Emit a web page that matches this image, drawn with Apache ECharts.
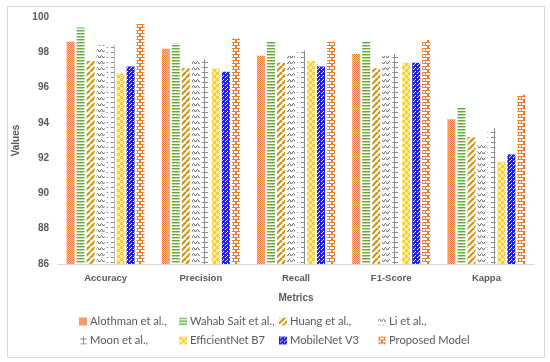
<!DOCTYPE html>
<html>
<head>
<meta charset="utf-8">
<script src="https://cdn.jsdelivr.net/npm/echarts@6/dist/echarts.min.js"></script>
<style>
html,body{margin:0;padding:0;background:#fff;}
#chart{width:550px;height:362px;}
</style>
</head>
<body>
<div id="chart"></div>
<script>
var categories = ['Accuracy', 'Precision', 'Recall', 'F1-Score', 'Kappa'];
var seriesNames = ['Alothman et al.,', 'Wahab Sait et al.,', 'Huang et al.,', 'Li et al.,', 'Moon et al.,', 'EfficientNet B7', 'MobileNet V3', 'Proposed Model'];
var alothman = [98.6, 98.2, 97.8, 97.9, 94.2];
var wahab = [99.4, 98.5, 98.6, 98.6, 94.9];
var huang = [97.5, 97.1, 97.4, 97.1, 93.2];
var li = [98.4, 97.5, 97.8, 97.8, 92.8];
var moon = [98.4, 97.6, 98.1, 97.9, 93.7];
var efficient = [96.8, 97.1, 97.5, 97.4, 91.8];
var mobilenet = [97.2, 96.9, 97.2, 97.4, 92.2];
var proposed = [99.6, 98.8, 98.6, 98.7, 95.6];
var yTicks = [86, 88, 90, 92, 94, 96, 98, 100];

function mk(w, h, draw) {
  var c = document.createElement('canvas');
  c.width = w; c.height = h;
  var g = c.getContext('2d');
  g.fillStyle = '#fff'; g.fillRect(0, 0, w, h);
  draw(g);
  return {image: c, repeat: 'repeat'};
}
function px(g, col, x, y, w, h) { g.fillStyle = col; g.fillRect(x, y, w || 1, h || 1); }

var patterns = [
  mk(2, 2, function (g) { px(g, '#F8BE98', 0, 0, 2, 2); px(g, '#EE7F37', 0, 0); px(g, '#EE7F37', 1, 1); }),
  mk(4, 3, function (g) { px(g, '#5DAE3A', 0, 0, 4, 1); px(g, '#B5DB9E', 0, 1, 4, 1); }),
  mk(6, 6, function (g) {
    g.strokeStyle = '#D8920F'; g.lineWidth = 2.2;
    for (var k = -6; k <= 12; k += 6) { g.beginPath(); g.moveTo(k, 6); g.lineTo(k + 6, 0); g.stroke(); }
  }),
  mk(4, 6, function (g) {
    px(g, '#7a7a7a', 0, 2, 1, 1); px(g, '#7a7a7a', 1, 1, 1, 1); px(g, '#7a7a7a', 2, 2, 1, 1); px(g, '#7a7a7a', 3, 3, 1, 1);
    px(g, '#b5b5b5', 0, 3, 1, 1); px(g, '#b5b5b5', 2, 3, 1, 1);
  }),
  mk(10, 5, function (g) { px(g, '#8C8C8C', 4, 0, 1, 5); px(g, '#8C8C8C', 1, 2, 7, 1); }),
  mk(6, 6, function (g) { px(g, '#FFEDA6', 0, 0, 6, 6); px(g, '#FFCF3A', 0, 0, 3, 3); px(g, '#FFCF3A', 3, 3, 3, 3); }),
  mk(4, 4, function (g) {
    px(g, '#1F1FF5', 0, 0, 4, 4); px(g, '#ffffff', 1, 1); px(g, '#ffffff', 3, 3); px(g, '#c8ccff', 2, 0);
  }),
  mk(8, 6, function (g) {
    px(g, '#ED7D31', 0, 0, 8, 1); px(g, '#ED7D31', 0, 3, 8, 1);
    px(g, '#ED7D31', 1, 0, 1, 3); px(g, '#ED7D31', 6, 0, 1, 3);
    px(g, '#ED7D31', 3, 3, 2, 3);
  })
];

var dataArr = [alothman, wahab, huang, li, moon, efficient, mobilenet, proposed];
var series = dataArr.map(function (d, i) {
  return {
    name: seriesNames[i], type: 'bar', data: d,
    barWidth: 8, barGap: '25%',
    itemStyle: {color: patterns[i]},
    emphasis: {disabled: true}
  };
});

var colX = [79, 179, 279, 378];
var rowY = [316, 335];
var legends = seriesNames.map(function (n, i) {
  return {
    data: [n], left: colX[i % 4], top: rowY[Math.floor(i / 4)],
    itemWidth: 8, itemHeight: 8, itemGap: 4, padding: 0,
    icon: 'rect',
    textStyle: {color: '#595959', fontSize: 11.2, fontFamily: 'Lato', padding: [0, 0, 0, -2]},
    selectedMode: false
  };
});

var chart = echarts.init(document.getElementById('chart'), null, {renderer: 'canvas'});
chart.setOption({
  animation: false,
  backgroundColor: '#fff',
  graphic: [{type: 'rect', shape: {x: 7.5, y: 6.5, width: 537, height: 351}, style: {fill: 'none', stroke: '#D9D9D9', lineWidth: 1}, silent: true}],
  grid: {left: 58, right: 16, top: 17, bottom: 98},
  legend: legends,
  xAxis: {
    type: 'category', data: categories,
    name: 'Metrics', nameLocation: 'middle', nameGap: 29,
    nameTextStyle: {color: '#595959', fontWeight: 'bold', fontSize: 10, fontFamily: 'Liberation Sans'},
    axisLine: {lineStyle: {color: '#D9D9D9'}},
    axisTick: {show: false},
    axisLabel: {color: '#595959', fontWeight: 'bold', fontSize: 9.5, fontFamily: 'Liberation Sans', margin: 9}
  },
  yAxis: {
    type: 'value', min: 86, max: 100, interval: 2,
    name: 'Values', nameLocation: 'middle', nameGap: 33,
    nameTextStyle: {color: '#595959', fontWeight: 'bold', fontSize: 10, fontFamily: 'Liberation Sans'},
    axisLine: {show: false}, axisTick: {show: false}, splitLine: {show: false},
    axisLabel: {color: '#595959', fontWeight: 'bold', fontSize: 10, fontFamily: 'Liberation Sans', margin: 9,
      formatter: function (v) { return yTicks.indexOf(v) >= 0 ? String(v) : ''; }}
  },
  series: series
});
</script>
</body>
</html>
